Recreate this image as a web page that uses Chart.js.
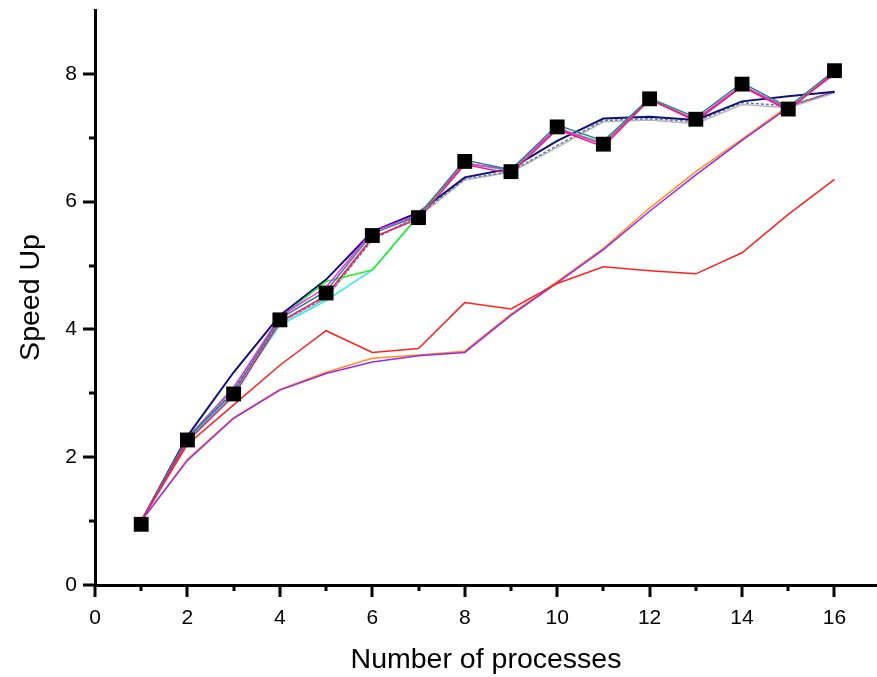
<!DOCTYPE html>
<html>
<head>
<meta charset="utf-8">
<script src="https://cdn.jsdelivr.net/npm/chart.js@4.4.1/dist/chart.umd.min.js"></script>
<style>
    html, body { margin: 0; padding: 0; background: #fff; }
    #wrap { width: 877px; height: 677px; }
</style>
</head>
<body>
<div id="wrap"><canvas id="speedup"></canvas></div>
<script>
    "use strict";

    // Data
    var processes = [1, 2, 3, 4, 5, 6, 7, 8, 9, 10, 11, 12, 13, 14, 15, 16];
    var xTicks = [0, 2, 4, 6, 8, 10, 12, 14, 16];
    var yTicks = [0, 2, 4, 6, 8];

    var squares = [0.95, 2.27, 2.99, 4.15, 4.57, 5.47, 5.75, 6.63, 6.47, 7.17, 6.9, 7.61, 7.29, 7.84, 7.45, 8.05];
    var crimson = [1.0, 2.25, 2.96, 4.12, 4.53, 5.44, 5.73, 6.58, 6.44, 7.13, 6.86, 7.6, 7.26, 7.8, 7.43, 8.03];
    var teal = [1.0, 2.3, 3.02, 4.17, 4.6, 5.5, 5.78, 6.65, 6.5, 7.2, 6.95, 7.62, 7.32, 7.86, 7.48, 8.05];
    var magenta = [1.0, 2.3, 3.08, 4.2, 4.66, 5.53, 5.8, 6.6, 6.5, 7.15, 6.9, 7.6, 7.28, 7.82, 7.45, 8.0];
    var green = [1.0, 2.3, 3.1, 4.18, 4.75, 4.93, 5.78, 6.6, 6.5, 7.15, 6.92, 7.6, 7.28, 7.82, 7.45, 8.0];
    var cyan = [1.0, 2.28, 3.0, 4.07, 4.45, 4.93, 5.78, 6.6, 6.48, 7.15, 6.9, 7.6, 7.28, 7.82, 7.45, 8.0];
    var navy = [1.0, 2.33, 3.33, 4.22, 4.78, 5.53, 5.83, 6.38, 6.52, 6.95, 7.3, 7.33, 7.28, 7.57, 7.65, 7.72];
    var slate = [1.0, 2.25, 3.05, 4.12, 4.5, 5.4, 5.78, 6.36, 6.47, 6.88, 7.27, 7.3, 7.25, 7.55, 7.5, 7.72];
    var silver = [1.0, 2.26, 3.0, 4.1, 4.48, 5.42, 5.77, 6.34, 6.46, 6.85, 7.25, 7.28, 7.22, 7.52, 7.47, 7.7];
    var red = [1.0, 2.2, 2.82, 3.44, 3.98, 3.64, 3.7, 4.42, 4.32, 4.72, 4.98, 4.92, 4.87, 5.2, 5.8, 6.35];
    var orange = [1.0, 1.97, 2.62, 3.06, 3.33, 3.55, 3.6, 3.66, 4.24, 4.75, 5.27, 5.9, 6.47, 6.98, 7.5, 7.72];
    var purple = [1.0, 1.95, 2.61, 3.05, 3.31, 3.49, 3.59, 3.64, 4.22, 4.73, 5.25, 5.85, 6.42, 6.96, 7.47, 7.73];

    function points(vals) {
        return processes.map(function (p, i) { return {x: p, y: vals[i]}; });
    }

    function series(vals, color, extra) {
        var ds = {
            data: points(vals),
            borderColor: color,
            backgroundColor: color,
            borderWidth: 1.5,
            pointRadius: 0,
            tension: 0
        };
        for (var k in extra) { ds[k] = extra[k]; }
        return ds;
    }

    // Tick marks: long on even values, short on odd ones
    var tickMarks = {
        id: 'tickMarks',
        afterDraw: function (chart) {
            var ctx = chart.ctx;
            var xs = chart.scales.x, ys = chart.scales.y;
            ctx.save();
            ctx.strokeStyle = '#000';
            ctx.lineWidth = 3;
            ctx.beginPath();
            for (var v = 0; v <= 16; v++) {
                var px = Math.round(xs.getPixelForValue(v));
                var len = v % 2 === 0 ? 12 : 6;
                ctx.moveTo(px, xs.top);
                ctx.lineTo(px, xs.top + len);
            }
            for (var w = 0; w <= 8; w++) {
                var py = Math.round(ys.getPixelForValue(w));
                var ln = w % 2 === 0 ? 12 : 6;
                ctx.moveTo(ys.right, py);
                ctx.lineTo(ys.right - ln, py);
            }
            ctx.stroke();
            ctx.restore();
        }
    };

    var tickFont = {family: "'Liberation Sans', Arial, sans-serif", size: 21};
    var titleFont = {family: "'Liberation Sans', Arial, sans-serif", size: 28.5};

    var ctx1 = document.getElementById('speedup').getContext('2d');
    var myChart1 = new Chart(ctx1, {
        type: 'line',
        data: {
            datasets: [
                series(squares, '#000', {
                    showLine: false, pointStyle: 'rect', pointRadius: 10.5,
                    pointHoverRadius: 10.5, pointBorderWidth: 0
                }),
                series(crimson, '#e8206e'),
                series(teal, '#2a8585'),
                series(magenta, '#ff20ff'),
                series(green, '#22ee22'),
                series(cyan, '#22e8f0'),
                series(navy, '#10107a', {borderWidth: 2}),
                series(slate, '#6878a0', {borderDash: [3, 2]}),
                series(silver, '#b8b8b8'),
                series(red, '#ff2020'),
                series(purple, '#9a28e8'),
                series(orange, '#ff9020')
            ]
        },
        options: {
            responsive: true,
            maintainAspectRatio: false,
            animation: false,
            events: [],
            layout: {autoPadding: false, padding: {top: 10, right: 0, left: 0, bottom: 0}},
            plugins: {
                legend: {display: false},
                tooltip: {enabled: false}
            },
            scales: {
                x: {
                    type: 'linear',
                    min: 0,
                    max: 16.92,
                    afterBuildTicks: function (scale) {
                        scale.ticks = xTicks.map(function (v) { return {value: v}; });
                    },
                    afterFit: function (scale) {
                        scale.height = 92;
                        scale.paddingLeft = 0;
                        scale.paddingRight = 0;
                    },
                    grid: {display: true, drawOnChartArea: false, color: 'rgba(0,0,0,0)', tickLength: 12},
                    border: {display: true, color: '#000', width: 3},
                    ticks: {color: '#000', font: tickFont, padding: 9, maxRotation: 0, autoSkip: false},
                    title: {display: true, text: 'Number of processes', color: '#000', font: titleFont, padding: {top: 0, bottom: 0}}
                },
                y: {
                    type: 'linear',
                    min: 0,
                    max: 9,
                    afterBuildTicks: function (scale) {
                        scale.ticks = yTicks.map(function (v) { return {value: v}; });
                    },
                    afterFit: function (scale) {
                        scale.width = 95;
                        scale.paddingTop = 0;
                        scale.paddingBottom = 0;
                    },
                    grid: {display: true, drawOnChartArea: false, color: 'rgba(0,0,0,0)', tickLength: 12},
                    border: {display: true, color: '#000', width: 3},
                    ticks: {color: '#000', font: tickFont, padding: 6, autoSkip: false},
                    title: {display: true, text: 'Speed Up', color: '#000', font: titleFont, padding: {top: 14, bottom: 0}}
                }
            }
        },
        plugins: [tickMarks]
    });
</script>
</body>
</html>
